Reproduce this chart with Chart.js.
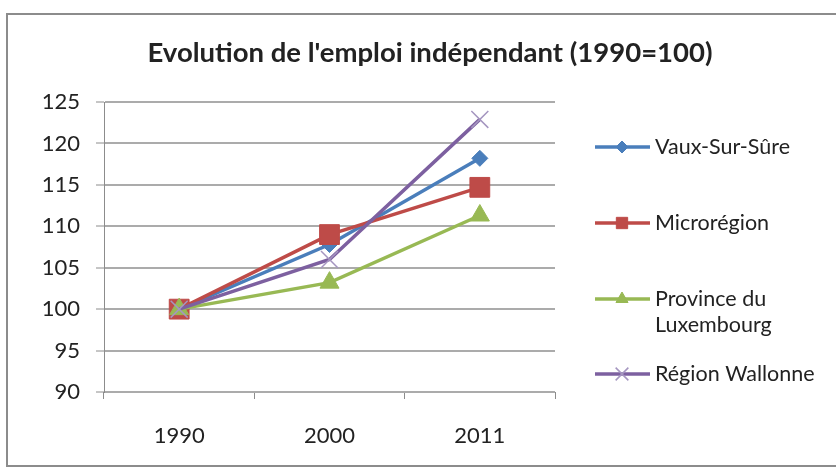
<!DOCTYPE html>
<html>
<head>
<meta charset="utf-8">
<script src="https://cdn.jsdelivr.net/npm/chart.js@4/dist/chart.umd.min.js"></script>
<style>
  html, body { margin: 0; padding: 0; background: #fff; }
  #wrap { position: absolute; left: 0; top: 0; width: 836px; height: 469px; }
</style>
</head>
<body>
<div id="wrap"><canvas id="c" width="836" height="469"></canvas></div>
<script>
const chartTitle = "Evolution de l'emploi indépendant (1990=100)";
const categories = ["1990", "2000", "2011"];
const seriesNames = ["Vaux-Sur-Sûre", "Microrégion", "Province du Luxembourg", "Région Wallonne"];
const legendLines = [["Vaux-Sur-Sûre"], ["Microrégion"], ["Province du", "Luxembourg"], ["Région Wallonne"]];
const vauxSurSure = [100, 107.8, 118.2];
const microregion = [100, 109.0, 114.7];
const provinceLux = [100, 103.2, 111.3];
const regionWallonne = [100, 106.0, 122.9];
const yTicks = [90, 95, 100, 105, 110, 115, 120, 125];

const FONT = "Lato, 'Open Sans', sans-serif";
const colors = ["#4A7EBB", "#BE4B48", "#98B954", "#7D60A0"];
const styles = [
  { pointStyle: 'rectRot', radius: 8, legendRadius: 6 },
  { pointStyle: 'rect', radius: 14, legendRadius: 8 },
  { pointStyle: 'triangle', radius: 11, legendRadius: 7 },
  { pointStyle: 'crossRot', radius: 12, legendRadius: 9 }
];
const values = [vauxSurSure, microregion, provinceLux, regionWallonne];

const datasets = values.map((v, i) => ({
  label: seriesNames[i],
  data: v,
  borderColor: colors[i],
  backgroundColor: colors[i],
  borderWidth: 3.5,
  tension: 0,
  pointStyle: styles[i].pointStyle,
  pointRadius: styles[i].radius,
  pointHoverRadius: styles[i].radius,
  pointBackgroundColor: colors[i],
  pointBorderColor: i === 3 ? "#a596c0" : colors[i],
  pointBorderWidth: i === 3 ? 1.5 : 1,
  order: 4 - i
}));

const decor = {
  id: 'decor',
  beforeDraw(chart) {
    const ctx = chart.ctx;
    ctx.save();
    ctx.fillStyle = '#fff';
    ctx.fillRect(0, 0, chart.width, chart.height);
    ctx.strokeStyle = '#8c8c8c';
    ctx.lineWidth = 2;
    ctx.strokeRect(7, 14, 840, 452);
    ctx.restore();
  },
  afterDraw(chart) {
    const ctx = chart.ctx;
    ctx.save();
    // title
    ctx.fillStyle = '#222';
    ctx.font = "bold 27.5px " + FONT;
    ctx.textAlign = 'center';
    ctx.textBaseline = 'middle';
    ctx.fillText(chartTitle, 430, 53);
    // legend
    const ys = [147, 223, 299, 374];
    ctx.font = "21.5px " + FONT;
    ctx.textAlign = 'left';
    legendLines.forEach((lines, i) => {
      const y = ys[i];
      ctx.strokeStyle = colors[i];
      ctx.lineWidth = 3.5;
      ctx.beginPath();
      ctx.moveTo(595, y);
      ctx.lineTo(650, y);
      ctx.stroke();
      ctx.fillStyle = colors[i];
      ctx.strokeStyle = i === 3 ? "#a596c0" : colors[i];
      ctx.lineWidth = i === 3 ? 1.5 : 1;
      Chart.helpers.drawPoint(ctx, { pointStyle: styles[i].pointStyle, radius: styles[i].legendRadius, rotation: 0, borderWidth: ctx.lineWidth }, 622, y);
      ctx.fillStyle = '#222';
      lines.forEach((t, k) => ctx.fillText(t, 655, y + k * 26));
    });
    ctx.restore();
  }
};

new Chart(document.getElementById('c'), {
  type: 'line',
  data: { labels: categories, datasets },
  options: {
    responsive: false,
    animation: false,
    devicePixelRatio: 1,
    layout: { padding: { left: 0, top: 102, right: 281, bottom: 0 } },
    plugins: { legend: { display: false }, title: { display: false }, tooltip: { enabled: false } },
    scales: {
      x: {
        offset: true,
        grid: { offset: true, drawOnChartArea: false, drawTicks: true, tickLength: 7, color: '#8c8c8c', lineWidth: 1 },
        border: { display: false },
        ticks: { color: '#222', font: { family: FONT, size: 22 }, padding: 24 },
        afterFit(s) { s.height = 77; }
      },
      y: {
        min: 90, max: 125,
        afterBuildTicks(s) { s.ticks = yTicks.map(v => ({ value: v })); },
        grid: { color: '#ababab', lineWidth: 2, drawTicks: true, tickLength: 8, tickColor: '#8c8c8c', tickWidth: 1 },
        border: { display: true, color: '#8c8c8c', width: 1 },
        ticks: { color: '#222', font: { family: FONT, size: 22 }, padding: 16 },
        afterFit(s) { s.width = 104; }
      }
    }
  },
  plugins: [decor]
});
</script>
</body>
</html>
